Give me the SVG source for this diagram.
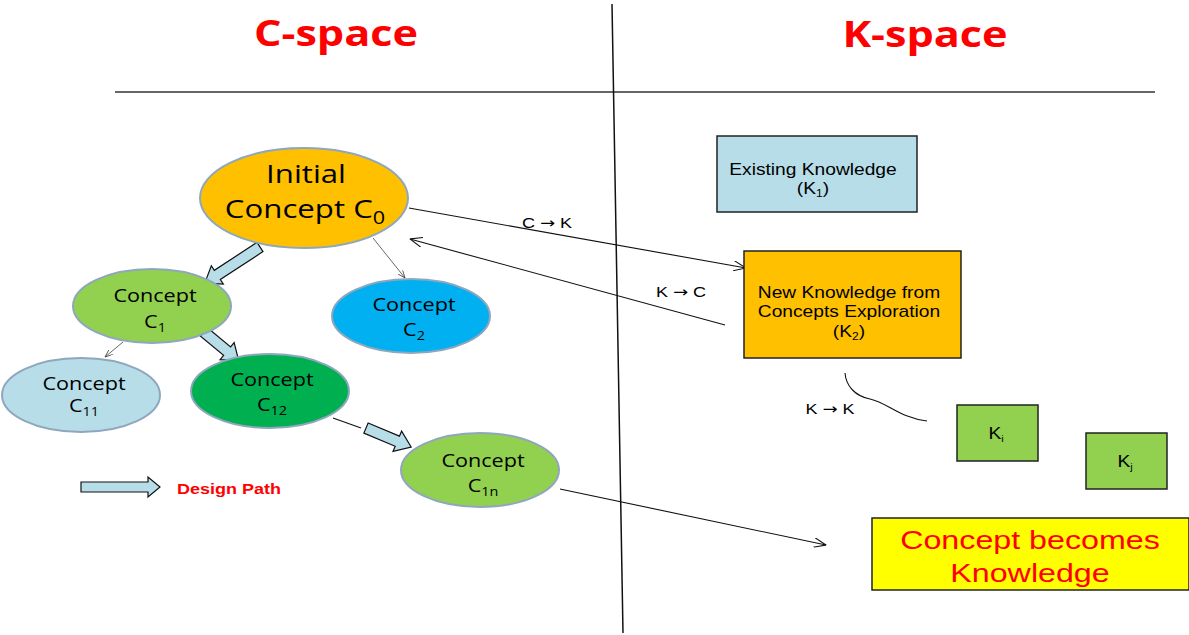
<svg xmlns="http://www.w3.org/2000/svg" width="1189" height="635" viewBox="0 0 1189 635">
<defs>
<style>
.ell{stroke:#8EA7BE;stroke-width:2}
.box{stroke:#222;stroke-width:1.5}
.blk{fill:#B7DEE8;stroke:#111;stroke-width:1.2}
.cn{fill:none;stroke:#111;stroke-width:1.1}
.thin{fill:none;stroke:#444;stroke-width:0.8}
.title{font-family:"Open Sans",sans-serif;font-weight:bold;font-size:36px;fill:#FF0000}
.nt{font-family:"Open Sans",sans-serif;font-size:18px;fill:#000}
.n0{font-family:"Open Sans",sans-serif;font-size:26px;fill:#000}
.at{font-family:"Liberation Sans",Arial,sans-serif;font-size:16px;fill:#000}
.lab{font-family:"Liberation Sans",Arial,sans-serif;font-size:15px;fill:#000}
.arr{font-family:"DejaVu Sans",sans-serif}
.big{font-family:"Liberation Sans",Arial,sans-serif;font-size:26px;fill:#FF0000}
.leg{font-family:"Liberation Sans",Arial,sans-serif;font-size:15px;font-weight:bold;fill:#FF0000}
</style>
<marker id="ah" viewBox="0 0 13 10" refX="12.5" refY="5" markerWidth="13" markerHeight="10" markerUnits="userSpaceOnUse" orient="auto">
<path d="M0,0 L12.5,5 L0,10" fill="none" stroke="#111" stroke-width="1.1"/>
</marker>
<marker id="ahs" viewBox="0 0 8 6" refX="7.5" refY="3" markerWidth="8" markerHeight="6" markerUnits="userSpaceOnUse" orient="auto">
<path d="M0,0 L7.5,3 L0,6" fill="none" stroke="#444" stroke-width="0.8"/>
</marker>
</defs>
<rect width="1189" height="635" fill="#fff"/>

<g id="frame">
<line x1="115" y1="92" x2="1155" y2="92" stroke="#333" stroke-width="1.5"/>
<line x1="612" y1="4" x2="623" y2="633" stroke="#111" stroke-width="1.5"/>
<g transform="translate(336,46) scale(1.2,1)"><text class="title" text-anchor="middle">C-space</text></g>
<g transform="translate(925,47) scale(1.2,1)"><text class="title" text-anchor="middle">K-space</text></g>
</g>

<g id="connectors">
<line class="cn" x1="409" y1="208" x2="746" y2="268" marker-end="url(#ah)"/>
<line class="cn" x1="725" y1="325" x2="410" y2="239" marker-end="url(#ah)"/>
<line class="cn" x1="560" y1="489" x2="826" y2="545" marker-end="url(#ah)"/>
<line class="thin" x1="373" y1="238" x2="405" y2="278" marker-end="url(#ahs)"/>
<line class="thin" x1="123" y1="342" x2="105" y2="357" marker-end="url(#ahs)"/>
<line class="cn" x1="333" y1="418" x2="361" y2="428"/>
<path class="cn" d="M845,373 C846,386 855,396 870,399 C888,403 900,418 927,421"/>
<path class="blk" d="M0,-5.5 H51 V-11 L66,0 L51,11 V5.5 H0 Z" transform="translate(260,247) rotate(146.8)"/>
<path class="blk" d="M0,-5.5 H30 V-11 L45,0 L30,11 V5.5 H0 Z" transform="translate(204,332) rotate(39.6)"/>
<path class="blk" d="M0,-5.5 H34 V-11 L49,0 L34,11 V5.5 H0 Z" transform="translate(366,428) rotate(22.9)"/>
<g transform="translate(547,228) scale(1.2,1)"><text class="lab" text-anchor="middle">C <tspan class="arr">→</tspan> K</text></g>
<g transform="translate(681,297) scale(1.2,1)"><text class="lab" text-anchor="middle">K <tspan class="arr">→</tspan> C</text></g>
<g transform="translate(830,414) scale(1.2,1)"><text class="lab" text-anchor="middle">K <tspan class="arr">→</tspan> K</text></g>
</g>

<g id="legend">
<path class="blk" d="M81,482 H148 V477 L160,487 L148,497 V492 H81 Z"/>
<g transform="translate(177,494) scale(1.2,1)"><text class="leg">Design Path</text></g>
</g>

<g id="c0">
<ellipse class="ell" cx="304" cy="198" rx="104" ry="50" fill="#FFC000"/>
<g transform="translate(306,183) scale(1.2,1)"><text class="n0" text-anchor="middle">Initial</text></g>
<g transform="translate(305,218) scale(1.2,1)"><text class="n0" text-anchor="middle">Concept C<tspan font-size="18" dy="6">0</tspan></text></g>
</g>

<g id="c1">
<ellipse class="ell" cx="152" cy="306" rx="79" ry="37" fill="#92D050"/>
<g transform="translate(155,302) scale(1.2,1)"><text class="nt" text-anchor="middle">Concept</text></g>
<g transform="translate(155,328) scale(1.2,1)"><text class="nt" text-anchor="middle">C<tspan font-size="12" dy="4">1</tspan></text></g>
</g>

<g id="c2">
<ellipse class="ell" cx="411" cy="316" rx="79" ry="37" fill="#00B0F0"/>
<g transform="translate(414,311) scale(1.2,1)"><text class="nt" text-anchor="middle">Concept</text></g>
<g transform="translate(414,336) scale(1.2,1)"><text class="nt" text-anchor="middle">C<tspan font-size="12" dy="4">2</tspan></text></g>
</g>

<g id="c11">
<ellipse class="ell" cx="81" cy="395" rx="79" ry="37" fill="#B7DEE8"/>
<g transform="translate(84,390) scale(1.2,1)"><text class="nt" text-anchor="middle">Concept</text></g>
<g transform="translate(84,412) scale(1.2,1)"><text class="nt" text-anchor="middle">C<tspan font-size="12" dy="4">11</tspan></text></g>
</g>

<g id="c12">
<ellipse class="ell" cx="270" cy="391" rx="79" ry="37" fill="#00B050"/>
<g transform="translate(272,386) scale(1.2,1)"><text class="nt" text-anchor="middle">Concept</text></g>
<g transform="translate(272,411) scale(1.2,1)"><text class="nt" text-anchor="middle">C<tspan font-size="12" dy="4">12</tspan></text></g>
</g>

<g id="c1n">
<ellipse class="ell" cx="480" cy="470" rx="79" ry="37" fill="#92D050"/>
<g transform="translate(483,467) scale(1.2,1)"><text class="nt" text-anchor="middle">Concept</text></g>
<g transform="translate(483,492) scale(1.2,1)"><text class="nt" text-anchor="middle">C<tspan font-size="12" dy="4">1n</tspan></text></g>
</g>

<g id="k1">
<rect class="box" x="717" y="136" width="200" height="76" fill="#B7DEE8"/>
<g transform="translate(813,175) scale(1.2,1)"><text class="at" text-anchor="middle" font-size="15">Existing Knowledge</text></g>
<g transform="translate(813,194) scale(1.2,1)"><text class="at" text-anchor="middle" font-size="15">(K<tspan font-size="10" dy="3">1</tspan><tspan dy="-3">)</tspan></text></g>
</g>

<g id="k2">
<rect class="box" x="744" y="251" width="217" height="107" fill="#FFC000"/>
<g transform="translate(849,298) scale(1.2,1)"><text class="at" text-anchor="middle" font-size="15">New Knowledge from</text></g>
<g transform="translate(849,317) scale(1.2,1)"><text class="at" text-anchor="middle" font-size="15">Concepts Exploration</text></g>
<g transform="translate(849,337) scale(1.2,1)"><text class="at" text-anchor="middle" font-size="15">(K<tspan font-size="10" dy="3">2</tspan><tspan dy="-3">)</tspan></text></g>
</g>

<g id="ki">
<rect class="box" x="957" y="405" width="81" height="56" fill="#92D050"/>
<g transform="translate(996,439) scale(1.2,1)"><text class="at" text-anchor="middle" font-size="13">K<tspan font-size="9" dy="3">i</tspan></text></g>
</g>

<g id="kj">
<rect class="box" x="1086" y="433" width="81" height="56" fill="#92D050"/>
<g transform="translate(1125,467) scale(1.2,1)"><text class="at" text-anchor="middle" font-size="13">K<tspan font-size="9" dy="3">j</tspan></text></g>
</g>

<g id="result">
<rect class="box" x="872" y="518" width="317" height="72" fill="#FFFF00"/>
<g transform="translate(1030,549) scale(1.24,1)"><text class="big" text-anchor="middle">Concept becomes</text></g>
<g transform="translate(1030,582) scale(1.24,1)"><text class="big" text-anchor="middle">Knowledge</text></g>
</g>
</svg>
